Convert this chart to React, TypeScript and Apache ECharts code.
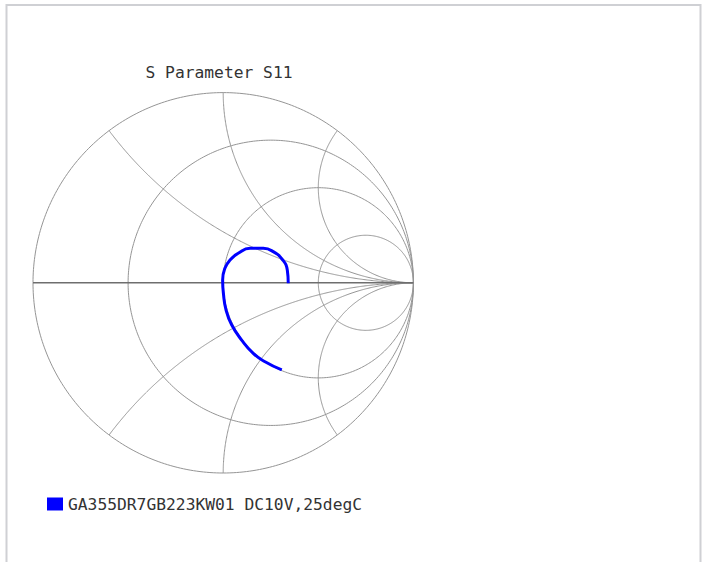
import React, { useEffect, useRef } from "react";
import * as echarts from "echarts";

// Smith chart grid values
const RESISTANCE_CIRCLES = [0, 1 / 3, 1, 3];
const REACTANCE_ARCS = [0.5, 1, 2, -0.5, -1, -2];

// S11 reflection coefficient
const S11_RE = [0.342, 0.337, 0.313, 0.263, 0.211, 0.141, 0.079, 0.036, 0.009, -0.003, 0.001, 0.015, 0.045, 0.097, 0.158, 0.22, 0.308];
const S11_IM = [-0.003, 0.067, 0.12, 0.164, 0.181, 0.181, 0.155, 0.12, 0.076, 0.015, -0.055, -0.143, -0.222, -0.301, -0.371, -0.415, -0.458];

const SERIES_NAME = "GA355DR7GB223KW01 DC10V,25degC";
const TITLE = "S Parameter S11";

function gammaOf(a: number, b: number): [number, number] {
  const den = (a + 1) * (a + 1) + b * b;
  return [(a * a + b * b - 1) / den, (2 * b) / den];
}

function resistanceCircle(r: number): [number, number][] {
  const pts: [number, number][] = [];
  const n = 360;
  const c = r / (1 + r);
  const rad = 1 / (1 + r);
  for (let k = 0; k <= n; k++) {
    const t = (2 * Math.PI * k) / n;
    pts.push([c + rad * Math.cos(t), rad * Math.sin(t)]);
  }
  return pts;
}

function reactanceArc(x: number): [number, number][] {
  const pts: [number, number][] = [];
  const n = 400;
  for (let k = 0; k < n; k++) {
    const t = k / n;
    const a = Math.tan((t * Math.PI) / 2);
    pts.push(gammaOf(a, x));
  }
  pts.push([1, 0]);
  return pts;
}

export default function App() {
  const ref = useRef<HTMLDivElement>(null);
  useEffect(() => {
    if (!ref.current) return;
    const chart = echarts.init(ref.current, undefined, { renderer: "svg" });
    const gridSeries: any[] = [];
    RESISTANCE_CIRCLES.forEach((r) => {
      gridSeries.push({
        type: "line",
        data: resistanceCircle(r),
        showSymbol: false,
        silent: true,
        clip: false,
        lineStyle: { color: "#959595", width: 1 },
        z: 1,
      });
    });
    REACTANCE_ARCS.forEach((x) => {
      gridSeries.push({
        type: "line",
        data: reactanceArc(x),
        showSymbol: false,
        silent: true,
        clip: false,
        lineStyle: { color: "#959595", width: 1 },
        z: 1,
      });
    });
    gridSeries.push({
      type: "line",
      data: [
        [-1, 0],
        [1, 0],
      ],
      showSymbol: false,
      silent: true,
      clip: false,
      lineStyle: { color: "#6e6e6e", width: 1.5 },
      z: 2,
    });
    const s11 = S11_RE.map((v, i) => [v, S11_IM[i]]);
    chart.setOption({
      animation: false,
      backgroundColor: "#ffffff",
      title: {
        text: TITLE,
        left: 219,
        top: 64,
        textAlign: "center",
        textStyle: {
          fontFamily: "DejaVu Sans Mono",
          fontSize: 16.3,
          fontWeight: "normal",
          color: "#333333",
        },
        padding: 0,
      },
      legend: {
        data: [SERIES_NAME],
        left: 47,
        top: 496,
        padding: 0,
        itemWidth: 16,
        itemHeight: 13,
        icon: "rect",
        textStyle: {
          fontFamily: "DejaVu Sans Mono",
          fontSize: 16.3,
          color: "#333333",
        },
      },
      graphic: [
        {
          type: "rect",
          shape: { x: 6.5, y: 5, width: 694, height: 600 },
          style: { fill: "none", stroke: "#cfd0d4", lineWidth: 2 },
          silent: true,
        },
      ],
      grid: { left: 33, top: 92.6, width: 380.4, height: 380.4 },
      xAxis: { type: "value", min: -1, max: 1, show: false },
      yAxis: { type: "value", min: -1, max: 1, show: false },
      series: [
        ...gridSeries,
        {
          name: SERIES_NAME,
          type: "line",
          data: s11,
          smooth: true,
          showSymbol: false,
          clip: false,
          color: "#0000ff",
          lineStyle: { color: "#0000ff", width: 3 },
          z: 5,
        },
      ],
    });
    return () => chart.dispose();
  }, []);
  return (
    <div
      ref={ref}
      style={{ position: "fixed", left: 0, top: 0, width: 708, height: 562 }}
    />
  );
}
